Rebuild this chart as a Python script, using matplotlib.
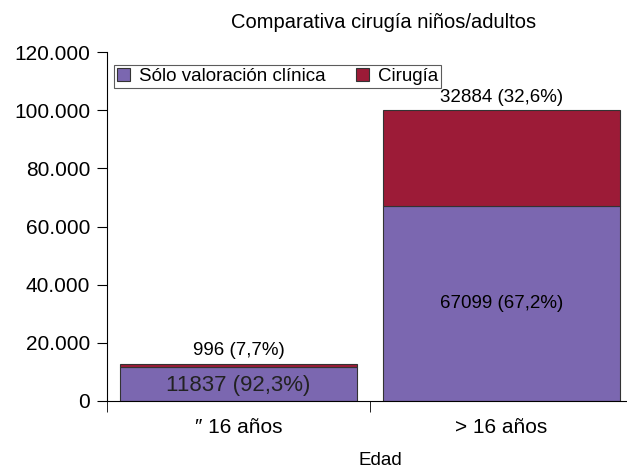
import matplotlib
matplotlib.use("Agg")
import matplotlib.pyplot as plt
from matplotlib.ticker import FuncFormatter

categories = ["\u2033 16 años", "> 16 años"]
valoracion = [11837, 67099]
cirugia = [996, 32884]
val_labels = ["11837 (92,3%)", "67099 (67,2%)"]
cir_labels = ["996 (7,7%)", "32884 (32,6%)"]
yticks = [0, 20000, 40000, 60000, 80000, 100000, 120000]

plt.rcParams['font.family'] = ['Liberation Sans', 'DejaVu Sans']

fig = plt.figure(figsize=(6.27, 4.68), dpi=100)
ax = fig.add_axes([107/627, 1-401/468, 526/627, (401-52)/468])

purple = "#7B67B0"
red = "#9C1B37"

x = list(range(len(categories)))
ax.bar(x, valoracion, width=0.9, color=purple, edgecolor="#333333", linewidth=0.8,
       label="Sólo valoración clínica")
ax.bar(x, cirugia, width=0.9, bottom=valoracion, color=red, edgecolor="#333333",
       linewidth=0.8, label="Cirugía")

tot = [v + c for v, c in zip(valoracion, cirugia)]
ax.text(x[0], tot[0] + 1500, cir_labels[0], ha="center", va="bottom", fontsize=13.5)
ax.text(x[1], tot[1] + 1500, cir_labels[1], ha="center", va="bottom", fontsize=13.5)
ax.text(x[0], valoracion[0] / 2 - 600, val_labels[0], ha="center", va="center", fontsize=16, color="#222222")
ax.text(x[1], valoracion[1] / 2, val_labels[1], ha="center", va="center", fontsize=13.5)

ax.set_ylim(0, 120000)
ax.set_xlim(-0.5, 1.5)
ax.set_yticks(yticks)
ax.yaxis.set_major_formatter(FuncFormatter(lambda v, p: "0" if v == 0 else f"{int(v):,}".replace(",", ".")))
ax.tick_params(axis="y", labelsize=15, length=7, direction="out", pad=5)

ax.set_xticks(x)
ax.set_xticklabels(categories, fontsize=15)
ax.tick_params(axis="x", length=0, pad=12)
ax.set_xticks([-0.5, 0.5, 1.5], minor=True)
ax.tick_params(axis="x", which="minor", length=8, direction="out")

ax.spines["top"].set_visible(False)
ax.spines["right"].set_visible(False)

ax.set_xlabel("Edad", fontsize=13.5)
ax.xaxis.set_label_coords((380-107)/526, -0.145)
fig.text(384/627, 1-22/468, "Comparativa cirugía niños/adultos", ha="center", va="center", fontsize=14.5)

leg = ax.legend(loc="upper left", bbox_to_anchor=(0.013, 0.963), ncol=2, fontsize=13.5,
                frameon=True, fancybox=False, edgecolor="#333333", handlelength=0.7,
                handleheight=0.7, handletextpad=0.5, columnspacing=1.6, borderpad=0.15,
                borderaxespad=0)
leg.get_frame().set_linewidth(0.8)

fig.savefig("out.png", dpi=100)
